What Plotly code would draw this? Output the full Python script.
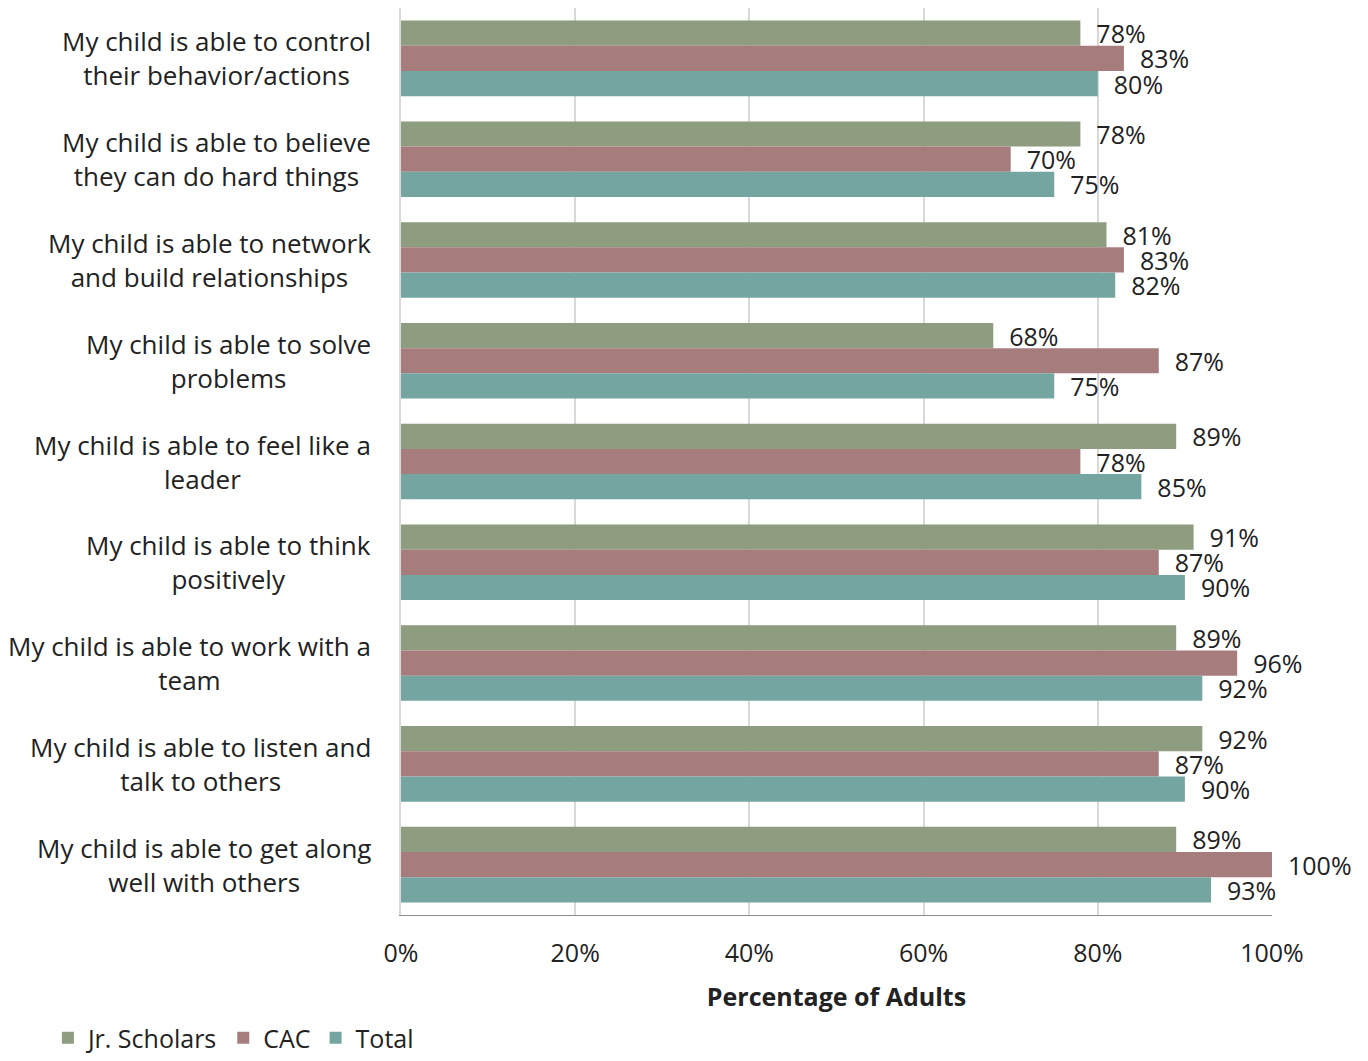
import plotly.graph_objects as go

# Survey statements (top to bottom) and the share of adults agreeing, per group
statements = [
    "My child is able to control<br>their behavior/actions",
    "My child is able to believe<br>they can do hard things",
    "My child is able to network<br>and build relationships",
    "My child is able to solve<br>problems",
    "My child is able to feel like a<br>leader",
    "My child is able to think<br>positively",
    "My child is able to work with a<br>team",
    "My child is able to listen and<br>talk to others",
    "My child is able to get along<br>well with others",
]
jr_scholars = [78, 78, 81, 68, 89, 91, 89, 92, 89]
cac = [83, 70, 83, 87, 78, 87, 96, 87, 100]
total = [80, 75, 82, 75, 85, 90, 92, 90, 93]

x_ticks = [0, 20, 40, 60, 80, 100]
x_tick_labels = ["0%", "20%", "40%", "60%", "80%", "100%"]

FONT = "Open Sans"
TEXT = "#222222"

series = [
    ("Jr. Scholars", jr_scholars, "#8e9c80"),
    ("CAC", cac, "#a77c7c"),
    ("Total", total, "#75a5a0"),
]

fig = go.Figure()
for name, vals, color in series:
    fig.add_trace(go.Bar(
        name=name,
        y=list(range(len(statements))),
        x=vals,
        orientation="h",
        marker=dict(color=color, line=dict(width=0)),
        texttemplate="  %{x:.0f}%",
        textposition="outside",
        textfont=dict(family=FONT, size=25, color=TEXT),
        constraintext="none",
        cliponaxis=False,
    ))

# Category labels, centred line-by-line and right-aligned to the axis
for i, s in enumerate(statements):
    fig.add_annotation(
        x=0, xref="paper", y=i, yref="y",
        text=s, showarrow=False,
        xanchor="right", xshift=-28, align="center",
        font=dict(family=FONT, size=26, color=TEXT),
    )

fig.update_layout(
    width=1368, height=1061,
    margin=dict(l=401, r=96, t=8, b=146),
    paper_bgcolor="white", plot_bgcolor="white",
    barmode="group", bargap=0.25, bargroupgap=0,
    font=dict(family=FONT, size=24, color=TEXT),
    showlegend=True,
    legend=dict(
        orientation="h", xref="container", yref="container",
        x=0.035, y=-0.005, xanchor="left", yanchor="bottom",
        font=dict(family=FONT, size=25, color=TEXT),
        itemwidth=30, tracegroupgap=0,
    ),
)

fig.update_xaxes(
    range=[0, 100], tickmode="array", tickvals=x_ticks, ticktext=x_tick_labels,
    showgrid=True, gridcolor="#d9d9d9", gridwidth=2,
    zeroline=False,
    showline=True, linecolor="#8c8c8c", linewidth=1,
    ticks="outside", ticklen=16, tickcolor="white",
    tickfont=dict(family=FONT, size=25, color=TEXT),
    title=dict(text="<b>Percentage of Adults</b>", standoff=20,
               font=dict(family=FONT, size=25, color=TEXT)),
)
fig.update_yaxes(
    autorange="reversed", showticklabels=False,
    showgrid=False, zeroline=False,
    showline=True, linecolor="#d9d9d9", linewidth=2,
)

fig.write_html("out.html")
